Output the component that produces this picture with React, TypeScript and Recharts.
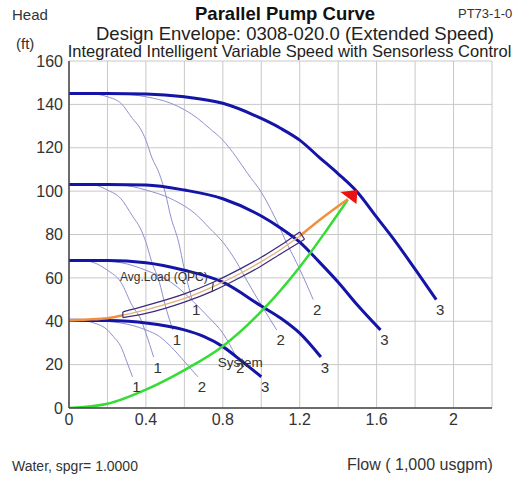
import React from "react";
import { ComposedChart, Line, Scatter, XAxis, YAxis, CartesianGrid } from "recharts";

type Pt = [number, number];

// Pump curves at four speeds (A = full speed). Pump3 = 3 pumps in parallel,
// Pump2 / Pump1 = fewer pumps running. [flow (1,000 usgpm), head (ft)]
const speedAPump3: Pt[] = [[0, 145], [0.2, 145], [0.4, 144.8], [0.6, 143.5], [0.8, 140.5], [1.0, 133.5], [1.1, 129], [1.2, 123.5], [1.3, 115.7], [1.4, 108], [1.5, 99.5], [1.6, 88], [1.7, 76.5], [1.8, 64], [1.91, 50]];
const speedAPump2: Pt[] = [[0, 145], [0.13, 145], [0.27, 144.8], [0.4, 143.5], [0.53, 140.5], [0.67, 133.5], [0.73, 129], [0.8, 123.5], [0.87, 115.7], [0.93, 108], [1.0, 99.5], [1.07, 88], [1.13, 76.5], [1.2, 64], [1.27, 50]];
const speedAPump1: Pt[] = [[0, 145], [0.07, 145], [0.13, 144.8], [0.2, 143.5], [0.27, 140.5], [0.33, 133.5], [0.37, 129], [0.4, 123.5], [0.43, 115.7], [0.47, 108], [0.5, 99.5], [0.53, 88], [0.57, 76.5], [0.6, 64], [0.64, 50]];

const speedBPump3: Pt[] = [[0, 103], [0.2, 103], [0.4, 102.8], [0.6, 100.5], [0.8, 96.5], [1.0, 88.5], [1.1, 83], [1.2, 76.5], [1.3, 67.5], [1.4, 58], [1.5, 47.5], [1.62, 36]];
const speedBPump2: Pt[] = [[0, 103], [0.13, 103], [0.27, 102.8], [0.4, 100.5], [0.53, 96.5], [0.67, 88.5], [0.73, 83], [0.8, 76.5], [0.87, 67.5], [0.93, 58], [1.0, 47.5], [1.08, 36]];
const speedBPump1: Pt[] = [[0, 103], [0.07, 103], [0.13, 102.8], [0.2, 100.5], [0.27, 96.5], [0.33, 88.5], [0.37, 83], [0.4, 76.5], [0.43, 67.5], [0.47, 58], [0.5, 47.5], [0.54, 36]];

const speedCPump3: Pt[] = [[0, 68], [0.2, 68], [0.4, 67], [0.6, 63.5], [0.8, 58], [1.0, 47], [1.1, 41.5], [1.2, 34.5], [1.31, 23.5]];
const speedCPump2: Pt[] = [[0, 68], [0.13, 68], [0.27, 67], [0.4, 63.5], [0.53, 58], [0.67, 47], [0.73, 41.5], [0.8, 34.5], [0.87, 23.5]];
const speedCPump1: Pt[] = [[0, 68], [0.07, 68], [0.13, 67], [0.2, 63.5], [0.27, 58], [0.33, 47], [0.37, 41.5], [0.4, 34.5], [0.44, 23.5]];

const speedDPump3: Pt[] = [[0, 40.5], [0.2, 40.3], [0.4, 39.2], [0.6, 36], [0.7, 33], [0.8, 28.3], [0.9, 21.5], [1.0, 14.4]];
const speedDPump2: Pt[] = [[0, 40.5], [0.13, 40.3], [0.27, 39.2], [0.4, 36], [0.47, 33], [0.53, 28.3], [0.6, 21.5], [0.67, 14.4]];
const speedDPump1: Pt[] = [[0, 40.5], [0.07, 40.3], [0.13, 39.2], [0.2, 36], [0.23, 33], [0.27, 28.3], [0.3, 21.5], [0.33, 14.4]];

const systemCurve: Pt[] = [[0, 0], [0.2, 2], [0.4, 8.5], [0.6, 17.5], [0.8, 28.5], [1.0, 44.5], [1.2, 65], [1.34, 82], [1.45, 96]];

// quadratic pressure control curve and the average-load band around it
const qpcCurve: Pt[] = [[0, 40.5], [0.1, 40.8], [0.2, 41.4], [0.28, 42.8], [0.4, 45.3], [0.6, 50.5], [0.75, 56], [0.9, 62.5], [1.0, 67.5], [1.1, 73], [1.2, 79.3], [1.3, 86.5], [1.45, 96.3]];
const avgLoadUpper: Pt[] = [[0.28, 44.3], [0.4, 47.2], [0.6, 52.6], [0.75, 58], [0.9, 64.6], [1.0, 69.5], [1.1, 75], [1.2, 81.2]];
const avgLoadLower: Pt[] = [[0.28, 41.7], [0.4, 43.6], [0.6, 48.8], [0.75, 54], [0.9, 60.6], [1.0, 65.5], [1.1, 71], [1.225, 77.8]];
const avgLoadMark: Pt[] = [[0.745, 54], [0.75, 57.8]];
const BAND_START = 0.28;
const BAND_END = 1.2;

const designPoint = [{ x: 1.5, y: 100.5 }];

const notes = [
  { x: 0.265, y: 60.4, text: "Avg.Load (QPC)", size: 12 },
  { x: 0.774, y: 21.2, text: "System", size: 13.5 },
];

const X_TICKS = [0, 0.2, 0.4, 0.6, 0.8, 1.0, 1.2, 1.4, 1.6, 1.8, 2.0, 2.2];
const X_TICK_LABELS = ["0", "", "0.4", "", "0.8", "", "1.2", "", "1.6", "", "2", ""];
const Y_TICKS = [0, 20, 40, 60, 80, 100, 120, 140, 160];

const FONT = "'Liberation Sans', Arial, sans-serif";
const THICK = "#1414a8";
const THIN = "#9090cf";

const rows = (pts: Pt[]) => pts.map(([x, y]) => ({ x, y }));

const pumpCurves = [
  { id: "a1", pts: speedAPump1, label: "1", thick: false },
  { id: "a2", pts: speedAPump2, label: "2", thick: false },
  { id: "b1", pts: speedBPump1, label: "1", thick: false },
  { id: "b2", pts: speedBPump2, label: "2", thick: false },
  { id: "c1", pts: speedCPump1, label: "1", thick: false },
  { id: "c2", pts: speedCPump2, label: "2", thick: false },
  { id: "d1", pts: speedDPump1, label: "1", thick: false },
  { id: "d2", pts: speedDPump2, label: "2", thick: false },
  { id: "a3", pts: speedAPump3, label: "3", thick: true },
  { id: "b3", pts: speedBPump3, label: "3", thick: true },
  { id: "c3", pts: speedCPump3, label: "3", thick: true },
  { id: "d3", pts: speedDPump3, label: "3", thick: true },
];

function endLabel(text: string, count: number) {
  return (p: any) => {
    if (p.index !== count - 1) return <g key={`d${p.index}`} />;
    return (
      <text key={`d${p.index}`} x={p.cx + 4} y={p.cy + 15.5} textAnchor="middle" fontSize={15} fill="#333" fontFamily={FONT}>
        {text}
      </text>
    );
  };
}

function Triangle(p: any) {
  const { cx, cy } = p;
  return <polygon points={`${cx},${cy} ${cx - 17},${cy + 2} ${cx - 1},${cy + 14}`} fill="#ee1111" />;
}

function Note(p: any) {
  const { cx, cy, payload } = p;
  return (
    <text x={cx} y={cy + payload.size * 0.36} fontSize={payload.size} fill="#333" fontFamily={FONT}>
      {payload.text}
    </text>
  );
}

export default function App() {
  const qpcLead = qpcCurve.filter(([x]) => x <= BAND_START);
  const qpcInside = qpcCurve.filter(([x]) => x >= BAND_START && x <= BAND_END);
  const qpcTail = qpcCurve.filter(([x]) => x >= BAND_END);
  const leftCap: Pt[] = [avgLoadLower[0], avgLoadUpper[0]];
  const rightCap: Pt[] = [avgLoadLower[avgLoadLower.length - 1], avgLoadUpper[avgLoadUpper.length - 1]];
  const band = "#3a2a80";

  return (
    <div style={{ position: "absolute", left: 0, top: 0, width: 519, height: 477, background: "#fff", fontFamily: FONT }}>
      <ComposedChart width={519} height={477} margin={{ top: 61, right: 27, bottom: 39, left: 9 }}>
        <CartesianGrid stroke="#c8c8c8" strokeWidth={1} />
        <XAxis
          type="number"
          dataKey="x"
          domain={[0, 2.2]}
          ticks={X_TICKS}
          interval={0}
          tickFormatter={(v: number) => X_TICK_LABELS[X_TICKS.indexOf(v)] ?? ""}
          tick={{ fontSize: 16, fill: "#333", fontFamily: FONT }}
          tickLine={false}
          tickSize={0}
          tickMargin={6}
          axisLine={{ stroke: "#444", strokeWidth: 1.5 }}
          height={30}
          allowDataOverflow
        />
        <YAxis
          type="number"
          dataKey="y"
          domain={[0, 160]}
          ticks={Y_TICKS}
          interval={0}
          tick={{ fontSize: 16, fill: "#333", fontFamily: FONT }}
          tickLine={false}
          tickSize={0}
          tickMargin={6}
          axisLine={{ stroke: "#444", strokeWidth: 1.5 }}
          width={60}
          allowDataOverflow
        />
        {pumpCurves.map((c) => (
          <Line
            key={c.id}
            data={rows(c.pts)}
            dataKey="y"
            type="monotone"
            stroke={c.thick ? THICK : THIN}
            strokeWidth={c.thick ? 3 : 1}
            dot={endLabel(c.label, c.pts.length)}
            activeDot={false}
            isAnimationActive={false}
          />
        ))}
        <Line data={rows(systemCurve)} dataKey="y" type="monotone" stroke="#33dd33" strokeWidth={2.5} dot={false} activeDot={false} isAnimationActive={false} />
        <Line data={rows(qpcLead)} dataKey="y" type="monotone" stroke="#f0903c" strokeWidth={2.5} dot={false} activeDot={false} isAnimationActive={false} />
        <Line data={rows(qpcInside)} dataKey="y" type="monotone" stroke="#e2b27c" strokeWidth={1.3} dot={false} activeDot={false} isAnimationActive={false} />
        <Line data={rows(qpcTail)} dataKey="y" type="monotone" stroke="#f0903c" strokeWidth={2.5} dot={false} activeDot={false} isAnimationActive={false} />
        <Line data={rows(avgLoadUpper)} dataKey="y" type="monotone" stroke={band} strokeWidth={1.2} dot={false} activeDot={false} isAnimationActive={false} />
        <Line data={rows(avgLoadLower)} dataKey="y" type="monotone" stroke={band} strokeWidth={1.2} dot={false} activeDot={false} isAnimationActive={false} />
        <Line data={rows(leftCap)} dataKey="y" type="linear" stroke={band} strokeWidth={1.2} dot={false} activeDot={false} isAnimationActive={false} />
        <Line data={rows(rightCap)} dataKey="y" type="linear" stroke={band} strokeWidth={1.2} dot={false} activeDot={false} isAnimationActive={false} />
        <Line data={rows(avgLoadMark)} dataKey="y" type="linear" stroke="#222" strokeWidth={1} dot={false} activeDot={false} isAnimationActive={false} />
        <Scatter data={designPoint} dataKey="y" shape={Triangle} isAnimationActive={false} />
        <Scatter data={notes} dataKey="y" shape={Note} isAnimationActive={false} />
      </ComposedChart>
      <svg width={519} height={477} style={{ position: "absolute", left: 0, top: 0, pointerEvents: "none" }} fontFamily={FONT}>
        <text x={12} y={20} fontSize={15} fill="#333">Head</text>
        <text x={16} y={49} fontSize={15} fill="#333">(ft)</text>
        <text x={285} y={20} fontSize={18.5} fontWeight="bold" textAnchor="middle" fill="#111">Parallel Pump Curve</text>
        <text x={458} y={18} fontSize={13} fill="#333">PT73-1-0</text>
        <text x={295} y={40} fontSize={18.5} textAnchor="middle" fill="#222">Design Envelope: 0308-020.0 (Extended Speed)</text>
        <text x={289.5} y={57} fontSize={16.5} textAnchor="middle" fill="#222">Integrated Intelligent Variable Speed with Sensorless Control</text>
        <text x={12} y={471} fontSize={14} fill="#333">Water, spgr= 1.0000</text>
        <text x={347} y={470} fontSize={16} fill="#333">Flow ( 1,000 usgpm)</text>
      </svg>
    </div>
  );
}
